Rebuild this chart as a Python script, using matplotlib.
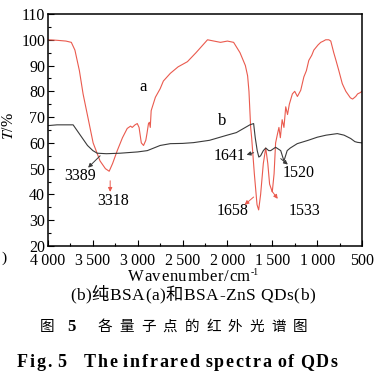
import matplotlib
matplotlib.use('Agg')
import matplotlib.pyplot as plt
from matplotlib.ticker import MultipleLocator, FixedLocator, FixedFormatter
from matplotlib.transforms import IdentityTransform

# Spectrum a: pure BSA (wavenumber, transmittance)
wn_a = [4000, 3900, 3800, 3740, 3700, 3650, 3609, 3550, 3497, 3420, 3360, 3318,
        3280, 3228, 3170, 3117, 3080, 3061, 3030, 3005, 2985, 2960, 2935, 2910,
        2897, 2880, 2870, 2860, 2850, 2803, 2750, 2714, 2636, 2550, 2446, 2350,
        2222, 2150, 2077, 2000, 1931, 1860, 1800, 1775, 1760, 1741, 1730, 1700,
        1670, 1652, 1630, 1600, 1573, 1550, 1530, 1510, 1500, 1480, 1463, 1445,
        1426, 1410, 1390, 1370, 1350, 1330, 1310, 1276, 1250, 1220, 1183, 1148,
        1120, 1093, 1060, 1037, 990, 960, 930, 905, 870, 848, 815, 790, 758,
        720, 703, 680, 660, 630, 605, 570, 549, 520, 500]
t_a = [100, 99.8, 99.5, 99, 96, 88, 79, 69, 60, 53, 50, 49,
       52, 57, 62, 65.6, 66.5, 66, 67, 67.5, 66, 60, 59, 61,
       63.6, 67.5, 68, 66, 72.5, 77.7, 81, 84, 87, 89.5, 91.5, 95,
       100, 99.5, 99, 99.5, 99, 95, 90, 86, 80, 66, 62, 48,
       36, 34, 40, 52, 58, 52, 44, 42, 41, 48, 60, 63,
       66, 62, 69, 66, 74, 71, 75, 79, 80, 78, 80.4, 85.6,
       88, 92, 94, 96, 98, 99, 99.5, 100, 100, 99.5, 95, 92, 88,
       83, 81.7, 80, 79, 77.5, 77, 78, 79, 79.5, 80]

# Spectrum b: BSA-ZnS QDs
wn_b = [4000, 3900, 3800, 3720, 3680, 3620, 3560, 3500, 3452, 3350, 3195, 3000,
        2893, 2750, 2636, 2500, 2378, 2200, 2003, 1900, 1820, 1750, 1708, 1690,
        1668, 1650, 1630, 1600, 1573, 1540, 1518, 1463, 1406, 1370, 1334, 1300,
        1222, 1100, 999, 900, 775, 700, 626, 580, 549, 500]
t_b = [66.7, 67, 67, 67, 65, 62, 59, 57, 56, 55.8, 56, 56.5,
       57, 59, 59.7, 59.8, 60.1, 61, 63, 64, 65.6, 67, 67.5, 62,
       57, 54.5, 55, 57, 58, 57, 57, 58.3, 57, 53, 57, 58,
       59.7, 61, 62.2, 63, 63.6, 63, 61.7, 60.5, 60.2, 60]

x_ticks = [4000, 3500, 3000, 2500, 2000, 1500, 1000, 500]
x_tick_labels = ['4\u2009000', '3\u2009500', '3\u2009000', '2\u2009500',
                 '2\u2009000', '1\u2009500', '1\u2009000', '500']

# peak labels: (text, text pos, arrow tail on curve, arrow head, colour)
peaks = [
    ('3389', (3642, 47.3), (3419, 55), (3553, 50.4), 'k'),
    ('3318', (3273, 37.5), (3307, 45.3), (3307, 41), 'r'),
    ('1641', (1976, 55.0), (1708, 56.2), (1786, 55.4), 'k'),
    ('1520', (1204, 48.4), (1406, 53.9), (1327, 51.6), 'k'),
    ('1658', (1942, 33.6), (1708, 39), (1808, 36), 'r'),
    ('1533', (1137, 33.6), (1506, 41.4), (1439, 38.3), 'r'),
]

RED = '#ea5a4e'
GREY = '#3a3a3a'
SERIF = ['Liberation Serif', 'DejaVu Serif']
MIXED = ['Liberation Serif', 'Noto Sans CJK SC']

plt.rcParams['font.family'] = SERIF
plt.rcParams['mathtext.fontset'] = 'stix'

W, H = 376, 384
fig = plt.figure(figsize=(W / 100, H / 100), dpi=100)
ax = fig.add_axes([48 / W, 1 - 246 / H, (362 - 48) / W, (246 - 14) / H])

ax.plot(wn_a, t_a, color=RED, lw=0.8)
ax.plot(wn_b, t_b, color=GREY, lw=0.8)

ax.set_xlim(4000, 500)
ax.set_ylim(20, 110)
ax.xaxis.set_major_locator(FixedLocator(x_ticks))
ax.xaxis.set_major_formatter(FixedFormatter(x_tick_labels))
ax.xaxis.set_minor_locator(MultipleLocator(250))
ax.yaxis.set_major_locator(MultipleLocator(10))
ax.yaxis.set_minor_locator(MultipleLocator(5))
ax.tick_params(which='both', direction='in', top=False, right=False,
               labelsize=11.5, width=0.8)
ax.tick_params(which='major', length=4, pad=2)
ax.tick_params(axis='x', which='major', pad=5)
ax.tick_params(which='minor', length=2)
for s in ax.spines.values():
    s.set_linewidth(1.1)

ax.text(2938, 81.5, 'a', fontsize=12, ha='center', va='center')
ax.text(2054, 68.3, 'b', fontsize=12, ha='center', va='center')
for label, pos, tail, head, c in peaks:
    col = RED if c == 'r' else GREY
    ax.text(pos[0], pos[1], label, fontsize=11.5, ha='center', va='center')
    ax.annotate('', xy=head, xytext=tail,
                arrowprops=dict(arrowstyle='-|>', color=col, lw=0.7,
                                mutation_scale=6, shrinkA=0, shrinkB=0))

fig.text(9 / W, 1 - 126 / H, '$T$/%', rotation=90, fontsize=11.5,
         ha='center', va='center')
fig.text(1 / W, 1 - 258 / H, ')', fontsize=11, ha='left', va='center')


def tracked_word(s, x0, y, size, track, **kw):
    """Draw one word char by char from x0 (pixels); returns the end x"""
    r = fig.canvas.get_renderer()
    x = x0
    for ch in s:
        t = fig.text(x, H - y, ch, fontsize=size, ha='left', va='baseline',
                     transform=IdentityTransform(), **kw)
        x += t.get_window_extent(r).width + track
    return x - track


def tracked_line(words, gaps, x0, y, size, track, **kw):
    """Draw words one after another with the given gaps between them"""
    x = x0
    for word, gap in zip(words, gaps):
        x = tracked_word(word, x, y, size, track, **kw) + gap
    return x


end = tracked_word('Wavenumber/cm', 128, 281, 12, 0.6)
fig.text(end + 1, H - 275, '-1', fontsize=7, ha='left', va='baseline',
         transform=IdentityTransform())
tracked_line(['(b)纯BSA(a)和BSA-ZnS', 'QDs(b)'], [5, 0], 70, 300, 12.5, 0.5,
             family=MIXED)

# Chinese caption line
fig.text(47, H - 331, '图', fontsize=10.5, ha='center', va='baseline',
         family=['Noto Sans CJK SC'], transform=IdentityTransform())
fig.text(71.5, H - 331, '5', fontsize=12, fontweight='bold', ha='center',
         va='baseline', transform=IdentityTransform())
for i, ch in enumerate('各量子点的红外光谱图'):
    fig.text(105 + i * 21.7, H - 331, ch, fontsize=10.5, ha='center',
             va='baseline', family=['Noto Sans CJK SC'],
             transform=IdentityTransform())

tracked_line(['Fig.', '5', 'The', 'infrared', 'spectra', 'of', 'QDs'],
             [6, 17, 6, 6, 6, 6, 0], 17, 367, 13, 1.7, fontweight='bold')

fig.savefig('out.png', dpi=100)
